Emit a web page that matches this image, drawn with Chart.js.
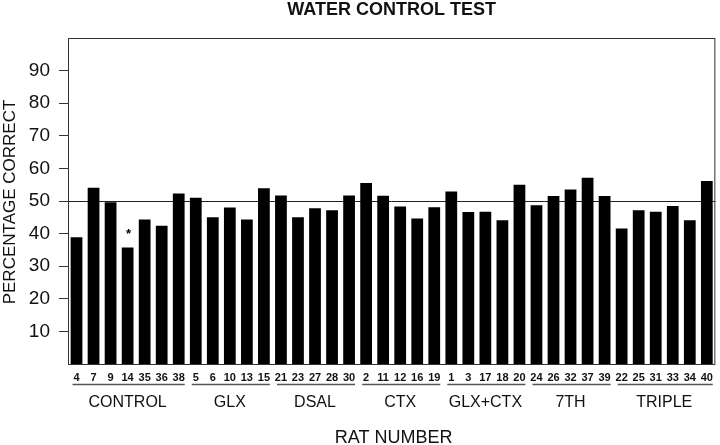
<!DOCTYPE html>
<html>
<head>
<meta charset="utf-8">
<script src="https://cdn.jsdelivr.net/npm/chart.js@4.4.1/dist/chart.umd.min.js"></script>
<style>
  html, body { margin: 0; padding: 0; background: #fff; }
</style>
</head>
<body>
<canvas id="waterChart" width="720" height="445"></canvas>
<script>
const ratNumbers = [
  "4", "7", "9", "14", "35", "36", "38",
  "5", "6", "10", "13", "15",
  "21", "23", "27", "28", "30",
  "2", "11", "12", "16", "19",
  "1", "3", "17", "18", "20",
  "24", "26", "32", "37", "39",
  "22", "25", "31", "33", "34", "40",
];
const percentCorrect = [
  38.9, 54.1, 49.6, 35.7, 44.3, 42.4, 52.3,
  51.0, 45.0, 48.0, 44.3, 53.9,
  51.7, 45.0, 47.8, 47.2, 51.7,
  55.5, 51.6, 48.3, 44.6, 48.1,
  52.9, 46.6, 46.7, 44.1, 55.0,
  48.7, 51.5, 53.5, 57.1, 51.5,
  41.6, 47.2, 46.7, 48.5, 44.1, 56.1,
];
const groupNames = ["CONTROL", "GLX", "DSAL", "CTX", "GLX+CTX", "7TH", "TRIPLE"];
const groupSizes = [7, 5, 5, 5, 5, 5, 6];
const yTicks = [10, 20, 30, 40, 50, 60, 70, 80, 90];
const chanceLevel = 50;
const starredRat = "14";
const starLevel = 40.6;

const FONT = '"Liberation Sans", Arial, Helvetica, sans-serif';

// extra drawing: chance line, frame, asterisk, group labels, titles
const extras = {
  id: "extras",
  beforeDatasetsDraw(chart) {
    const { ctx, chartArea, scales } = chart;
    const y = Math.round(scales.y.getPixelForValue(chanceLevel)) + 0.5;
    ctx.save();
    ctx.strokeStyle = "#222";
    ctx.lineWidth = 1;
    ctx.beginPath();
    ctx.moveTo(chartArea.left, y);
    ctx.lineTo(chartArea.right, y);
    ctx.stroke();
    ctx.restore();
  },
  afterDraw(chart) {
    const { ctx, chartArea, scales } = chart;
    const x = scales.x;
    const step = x.getPixelForValue(1) - x.getPixelForValue(0);
    ctx.save();

    // frame
    ctx.strokeStyle = "#333";
    ctx.lineWidth = 1;
    ctx.strokeRect(chartArea.left + 0.5, chartArea.top + 0.5,
      chartArea.right - chartArea.left - 1, chartArea.bottom - chartArea.top);

    // asterisk
    const si = ratNumbers.indexOf(starredRat);
    ctx.fillStyle = "#000";
    ctx.font = "bold 13px " + FONT;
    ctx.textAlign = "center";
    ctx.textBaseline = "middle";
    ctx.fillText("*", x.getPixelForValue(si) + 1, scales.y.getPixelForValue(starLevel) + 3);

    // group underlines and names
    let start = 0;
    groupSizes.forEach((n, g) => {
      const x0 = x.getPixelForValue(start) - step * 0.35 + 2;
      const x1 = x.getPixelForValue(start + n - 1) + step * 0.35;
      ctx.strokeStyle = "#555";
      ctx.lineWidth = 1.5;
      ctx.beginPath();
      ctx.moveTo(x0, 384.5);
      ctx.lineTo(x1, 384.5);
      ctx.stroke();
      ctx.fillStyle = "#111";
      ctx.font = "16px " + FONT;
      ctx.fillText(groupNames[g], (x.getPixelForValue(start) + x.getPixelForValue(start + n - 1)) / 2, 403);
      start += n;
    });

    const cx = (chartArea.left + chartArea.right) / 2;
    ctx.font = "bold 18px " + FONT;
    ctx.fillText("WATER CONTROL TEST", cx, 10);

    ctx.font = "18px " + FONT;
    ctx.fillText("RAT NUMBER", cx + 2, 438);

    ctx.font = "17px " + FONT;
    ctx.translate(10, 202);
    ctx.rotate(-Math.PI / 2);
    ctx.fillText("PERCENTAGE CORRECT", 0, 0);
    ctx.restore();
  },
};

new Chart(document.getElementById("waterChart").getContext("2d"), {
  type: "bar",
  data: {
    labels: ratNumbers,
    datasets: [
      {
        data: percentCorrect,
        backgroundColor: "#000",
        borderWidth: 0,
        barPercentage: 0.69,
        categoryPercentage: 1,
      },
    ],
  },
  options: {
    responsive: false,
    animation: false,
    layout: { padding: { top: 38, right: 4, left: 0, bottom: 0 } },
    plugins: {
      legend: { display: false },
      tooltip: { enabled: false },
    },
    scales: {
      x: {
        grid: { display: false, drawTicks: false },
        border: { display: false },
        ticks: {
          autoSkip: false,
          maxRotation: 0,
          padding: 7,
          color: "#111",
          font: { family: FONT, size: 11, weight: "bold" },
        },
        afterFit: (scale) => {
          scale.height = 81;
        },
      },
      y: {
        min: 0,
        max: 100,
        grid: { drawOnChartArea: false, drawTicks: true, tickLength: 9, color: "#333" },
        border: { display: false },
        ticks: {
          stepSize: 10,
          padding: 9,
          color: "#111",
          font: { family: FONT, size: 19 },
        },
        afterBuildTicks: (scale) => {
          scale.ticks = yTicks.map((v) => ({ value: v }));
        },
        afterFit: (scale) => {
          scale.width = 68;
        },
      },
    },
  },
  plugins: [extras],
});
</script>
</body>
</html>
